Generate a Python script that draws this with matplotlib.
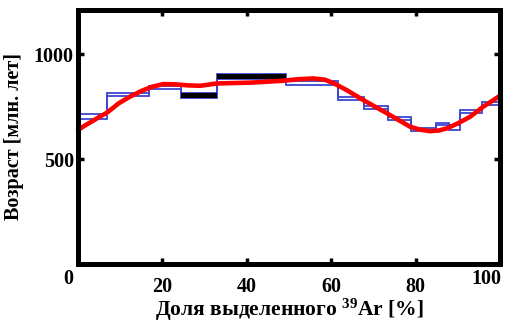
import matplotlib
matplotlib.use("Agg")
import matplotlib.pyplot as plt
import matplotlib.transforms as mtransforms
import numpy as np

# Step heating spectrum: release intervals (% 39Ar) and apparent ages (Ma)
step_edges = [0, 6.9, 16.8, 24.3, 33.0, 49.2, 61.6, 67.8, 73.5, 78.9, 84.8, 87.8, 90.5, 95.8, 100]
step_age = [703, 808, 840, 803, 892, 862, 788, 746, 693, 641, 667, 650, 725, 765]
step_err = [10, 8, 8, 10, 12, 9, 9, 8, 8, 9, 6, 10, 8, 8]
highlight_steps = [3, 4]  # plateau-excluded steps drawn in black

# Model age curve
curve_x = [0, 1.5, 3.2, 5, 6.8, 8.2, 9.6, 12.3, 15.1, 17.5, 20.2, 23, 26, 29, 32.9,
           36.8, 40.8, 44.5, 48.6, 52, 55.7, 58.5, 60.5, 63.7, 67.6, 73.2, 78.7,
           81, 83.4, 85.5, 87.4, 90, 92.9, 96, 98, 100]
curve_y = [638, 658, 678, 700, 720, 742, 765, 797, 825, 844, 857, 856, 851, 849, 860,
           862, 864, 868, 873, 880, 884, 878, 862, 828, 781, 718, 654,
           640, 633, 636, 646, 670, 701, 749, 775, 802]

x_ticks = [20, 40, 60, 80, 100]
x_ticklabels = ["20", "40", "60", "80", "100"]
y_ticks = [500, 1000]
y_ticklabels = ["500", "1000"]
corner_label = "0"

xlabel = "Доля выделенного $\\mathbf{^{39}}$Ar [%]"
ylabel = "Возраст [млн. лет]"

serif = ["Liberation Serif", "DejaVu Serif"]
plt.rcParams["mathtext.fontset"] = "custom"
plt.rcParams["mathtext.rm"] = "Liberation Serif"
plt.rcParams["mathtext.bf"] = "Liberation Serif:bold"

fig = plt.figure(figsize=(5.14, 3.24), dpi=100)
ax = fig.add_axes([78 / 514, 60 / 324, 422 / 514, 254 / 324])
ax.set_xlim(0, 100)
ax.set_ylim(0, 1210)

edges = np.array(step_edges)
age = np.array(step_age)
err = np.array(step_err)
blue = "#3c46d2"

ax.stairs(age + err, edges, color=blue, lw=1.3, zorder=3, baseline=None)
ax.stairs(age - err, edges, color=blue, lw=1.3, zorder=3, baseline=None)

for i in highlight_steps:
    ax.fill_between([edges[i], edges[i + 1]], age[i] - err[i] - 1, age[i] + err[i] + 1,
                    color="black", lw=0, zorder=3.5)

ax.plot(curve_x, curve_y, color="#ff0000", lw=3.3, solid_capstyle="round",
        solid_joinstyle="round", zorder=4, clip_on=False)

for s in ax.spines.values():
    s.set_linewidth(3.6)
    s.set_color("black")
    s.set_zorder(6)

tick_font = dict(family=serif, fontweight="bold", fontsize=14.5)
ax.set_xticks(x_ticks)
ax.set_xticklabels(x_ticklabels, **tick_font)
ax.set_yticks(y_ticks)
ax.set_yticklabels(y_ticklabels, **tick_font)
ax.tick_params(direction="in", length=4, width=2.5, top=True, right=True,
               pad=3)
ax.tick_params(axis="x", pad=9)

# shift the last x label inward, as it sits against the right frame
lbl = ax.get_xticklabels()[-1]
lbl.set_transform(lbl.get_transform() +
                  mtransforms.ScaledTranslation(-14 / 100, 7 / 100, fig.dpi_scale_trans))

ax.text(-0.022, -0.02, corner_label, transform=ax.transAxes, ha="center", va="top",
        **tick_font)

ax.set_xlabel(xlabel, family=serif, fontweight="bold", fontsize=15.5, labelpad=0)
ax.set_ylabel(ylabel, family=serif, fontweight="bold", fontsize=14.5, labelpad=0)
ax.yaxis.set_label_coords(-0.128, 0.5)

fig.savefig("out.png", dpi=100)
